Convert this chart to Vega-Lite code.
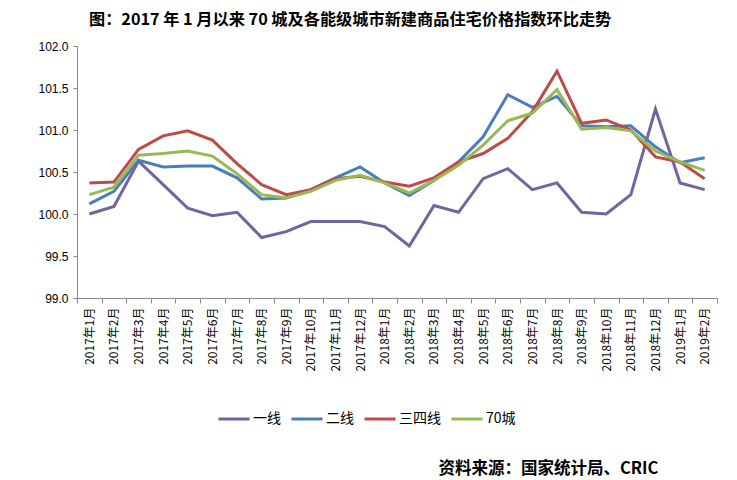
{
  "$schema": "https://vega.github.io/schema/vega-lite/v6.json",
  "width": 640,
  "height": 252,
  "autosize": {"type": "none"},
  "padding": {"left": 77, "top": 46, "right": 20, "bottom": 182},
  "background": "white",
  "title": {
    "text": "图：2017 年 1 月以来 70 城及各能级城市新建商品住宅价格指数环比走势",
    "anchor": "start",
    "frame": "group",
    "dx": 12,
    "offset": 12,
    "font": "Noto Sans CJK SC",
    "fontSize": 16.2,
    "fontWeight": "bold",
    "color": "#000000"
  },
  "config": {
    "view": {"stroke": null},
    "font": "Liberation Sans"
  },
  "data": {
    "values": [
      {"month": "2017年1月", "series": "一线", "value": 100.00},
      {"month": "2017年2月", "series": "一线", "value": 100.09},
      {"month": "2017年3月", "series": "一线", "value": 100.63},
      {"month": "2017年4月", "series": "一线", "value": 100.35},
      {"month": "2017年5月", "series": "一线", "value": 100.07},
      {"month": "2017年6月", "series": "一线", "value": 99.98},
      {"month": "2017年7月", "series": "一线", "value": 100.02},
      {"month": "2017年8月", "series": "一线", "value": 99.72},
      {"month": "2017年9月", "series": "一线", "value": 99.79},
      {"month": "2017年10月", "series": "一线", "value": 99.91},
      {"month": "2017年11月", "series": "一线", "value": 99.91},
      {"month": "2017年12月", "series": "一线", "value": 99.91},
      {"month": "2018年1月", "series": "一线", "value": 99.85},
      {"month": "2018年2月", "series": "一线", "value": 99.62},
      {"month": "2018年3月", "series": "一线", "value": 100.10},
      {"month": "2018年4月", "series": "一线", "value": 100.02},
      {"month": "2018年5月", "series": "一线", "value": 100.42},
      {"month": "2018年6月", "series": "一线", "value": 100.54},
      {"month": "2018年7月", "series": "一线", "value": 100.29},
      {"month": "2018年8月", "series": "一线", "value": 100.37},
      {"month": "2018年9月", "series": "一线", "value": 100.02},
      {"month": "2018年10月", "series": "一线", "value": 100.00},
      {"month": "2018年11月", "series": "一线", "value": 100.23},
      {"month": "2018年12月", "series": "一线", "value": 101.25},
      {"month": "2019年1月", "series": "一线", "value": 100.37},
      {"month": "2019年2月", "series": "一线", "value": 100.29},

      {"month": "2017年1月", "series": "二线", "value": 100.12},
      {"month": "2017年2月", "series": "二线", "value": 100.27},
      {"month": "2017年3月", "series": "二线", "value": 100.64},
      {"month": "2017年4月", "series": "二线", "value": 100.56},
      {"month": "2017年5月", "series": "二线", "value": 100.57},
      {"month": "2017年6月", "series": "二线", "value": 100.57},
      {"month": "2017年7月", "series": "二线", "value": 100.43},
      {"month": "2017年8月", "series": "二线", "value": 100.18},
      {"month": "2017年9月", "series": "二线", "value": 100.19},
      {"month": "2017年10月", "series": "二线", "value": 100.29},
      {"month": "2017年11月", "series": "二线", "value": 100.43},
      {"month": "2017年12月", "series": "二线", "value": 100.56},
      {"month": "2018年1月", "series": "二线", "value": 100.37},
      {"month": "2018年2月", "series": "二线", "value": 100.22},
      {"month": "2018年3月", "series": "二线", "value": 100.40},
      {"month": "2018年4月", "series": "二线", "value": 100.62},
      {"month": "2018年5月", "series": "二线", "value": 100.92},
      {"month": "2018年6月", "series": "二线", "value": 101.42},
      {"month": "2018年7月", "series": "二线", "value": 101.27},
      {"month": "2018年8月", "series": "二线", "value": 101.40},
      {"month": "2018年9月", "series": "二线", "value": 101.05},
      {"month": "2018年10月", "series": "二线", "value": 101.04},
      {"month": "2018年11月", "series": "二线", "value": 101.05},
      {"month": "2018年12月", "series": "二线", "value": 100.80},
      {"month": "2019年1月", "series": "二线", "value": 100.61},
      {"month": "2019年2月", "series": "二线", "value": 100.67},

      {"month": "2017年1月", "series": "三四线", "value": 100.37},
      {"month": "2017年2月", "series": "三四线", "value": 100.38},
      {"month": "2017年3月", "series": "三四线", "value": 100.77},
      {"month": "2017年4月", "series": "三四线", "value": 100.93},
      {"month": "2017年5月", "series": "三四线", "value": 100.99},
      {"month": "2017年6月", "series": "三四线", "value": 100.88},
      {"month": "2017年7月", "series": "三四线", "value": 100.60},
      {"month": "2017年8月", "series": "三四线", "value": 100.35},
      {"month": "2017年9月", "series": "三四线", "value": 100.23},
      {"month": "2017年10月", "series": "三四线", "value": 100.29},
      {"month": "2017年11月", "series": "三四线", "value": 100.42},
      {"month": "2017年12月", "series": "三四线", "value": 100.45},
      {"month": "2018年1月", "series": "三四线", "value": 100.38},
      {"month": "2018年2月", "series": "三四线", "value": 100.33},
      {"month": "2018年3月", "series": "三四线", "value": 100.43},
      {"month": "2018年4月", "series": "三四线", "value": 100.62},
      {"month": "2018年5月", "series": "三四线", "value": 100.72},
      {"month": "2018年6月", "series": "三四线", "value": 100.90},
      {"month": "2018年7月", "series": "三四线", "value": 101.22},
      {"month": "2018年8月", "series": "三四线", "value": 101.70},
      {"month": "2018年9月", "series": "三四线", "value": 101.08},
      {"month": "2018年10月", "series": "三四线", "value": 101.12},
      {"month": "2018年11月", "series": "三四线", "value": 101.00},
      {"month": "2018年12月", "series": "三四线", "value": 100.68},
      {"month": "2019年1月", "series": "三四线", "value": 100.62},
      {"month": "2019年2月", "series": "三四线", "value": 100.42},

      {"month": "2017年1月", "series": "70城", "value": 100.23},
      {"month": "2017年2月", "series": "70城", "value": 100.32},
      {"month": "2017年3月", "series": "70城", "value": 100.70},
      {"month": "2017年4月", "series": "70城", "value": 100.72},
      {"month": "2017年5月", "series": "70城", "value": 100.75},
      {"month": "2017年6月", "series": "70城", "value": 100.69},
      {"month": "2017年7月", "series": "70城", "value": 100.48},
      {"month": "2017年8月", "series": "70城", "value": 100.23},
      {"month": "2017年9月", "series": "70城", "value": 100.19},
      {"month": "2017年10月", "series": "70城", "value": 100.27},
      {"month": "2017年11月", "series": "70城", "value": 100.40},
      {"month": "2017年12月", "series": "70城", "value": 100.46},
      {"month": "2018年1月", "series": "70城", "value": 100.37},
      {"month": "2018年2月", "series": "70城", "value": 100.25},
      {"month": "2018年3月", "series": "70城", "value": 100.40},
      {"month": "2018年4月", "series": "70城", "value": 100.58},
      {"month": "2018年5月", "series": "70城", "value": 100.82},
      {"month": "2018年6月", "series": "70城", "value": 101.11},
      {"month": "2018年7月", "series": "70城", "value": 101.20},
      {"month": "2018年8月", "series": "70城", "value": 101.48},
      {"month": "2018年9月", "series": "70城", "value": 101.01},
      {"month": "2018年10月", "series": "70城", "value": 101.03},
      {"month": "2018年11月", "series": "70城", "value": 100.99},
      {"month": "2018年12月", "series": "70城", "value": 100.75},
      {"month": "2019年1月", "series": "70城", "value": 100.62},
      {"month": "2019年2月", "series": "70城", "value": 100.52}
    ]
  },
  "mark": {"type": "line", "strokeWidth": 3, "strokeJoin": "miter"},
  "encoding": {
    "x": {
      "field": "month",
      "type": "ordinal",
      "sort": null,
      "scale": {"paddingInner": 0, "paddingOuter": 0},
      "axis": {
        "title": "资料来源：国家统计局、CRIC",
        "titleFont": "Noto Sans CJK SC",
        "titleFontSize": 16.5,
        "titleFontWeight": "bold",
        "titleColor": "#000000",
        "titleAnchor": "start",
        "titleAlign": "left",
        "titleBaseline": "middle",
        "titleX": 361,
        "titleY": 170,
        "labelAngle": -90,
        "labelAlign": "right",
        "labelBaseline": "middle",
        "labelFont": "Noto Sans CJK SC",
        "labelFontSize": 12,
        "labelColor": "#000000",
        "labelPadding": 4,
        "tickBand": "extent",
        "tickSize": 5,
        "tickColor": "#888888",
        "domainColor": "#888888",
        "grid": false
      }
    },
    "y": {
      "field": "value",
      "type": "quantitative",
      "scale": {"domain": [99, 102], "zero": false, "nice": false},
      "axis": {
        "title": null,
        "values": [99, 99.5, 100, 100.5, 101, 101.5, 102],
        "format": ".1f",
        "labelFont": "Liberation Sans",
        "labelFontSize": 12,
        "labelColor": "#000000",
        "labelPadding": 5,
        "tickSize": 4,
        "tickColor": "#888888",
        "domainColor": "#888888",
        "grid": false
      }
    },
    "color": {
      "field": "series",
      "type": "nominal",
      "sort": ["一线", "二线", "三四线", "70城"],
      "scale": {
        "domain": ["一线", "二线", "三四线", "70城"],
        "range": ["#7563A0", "#4A7EBB", "#BE4B48", "#98B954"]
      },
      "legend": {
        "title": null,
        "orient": "none",
        "direction": "horizontal",
        "legendX": 140,
        "legendY": 356,
        "symbolType": "stroke",
        "symbolSize": 961,
        "symbolStrokeWidth": 3,
        "labelFont": "Noto Sans CJK SC",
        "labelFontSize": 14,
        "labelColor": "#000000",
        "labelOffset": 2,
        "columnPadding": 4
      }
    }
  }
}
